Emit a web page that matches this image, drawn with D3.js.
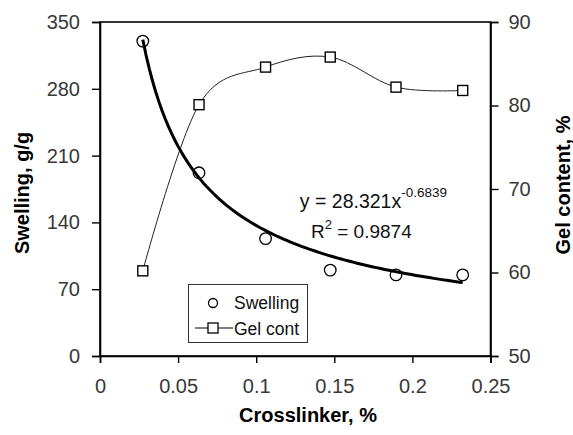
<!DOCTYPE html>
<html><head><meta charset="utf-8">
<script src="https://cdn.jsdelivr.net/npm/d3@7"></script>
<style>
html,body{margin:0;padding:0;background:#fff;}
svg{display:block;font-family:"Liberation Sans",Arial,sans-serif;}
</style></head>
<body>
<svg id="chart" width="573" height="435"></svg>
<script>
// ---- data ----
const crosslinker = [0.0274, 0.0634, 0.1060, 0.1474, 0.1895, 0.2322];
const swelling    = [330, 192, 123, 90, 85, 85];
const gelContent  = [60.2, 80.1, 84.6, 85.8, 82.2, 81.8];
const xTicks      = [0, 0.05, 0.1, 0.15, 0.2, 0.25];
const xTickLabels = ["0", "0.05", "0.1", "0.15", "0.2", "0.25"];
const yLeftTicks  = [0, 70, 140, 210, 280, 350];
const yRightTicks = [50, 60, 70, 80, 90];
const fitA = 28.321, fitB = -0.6839;   // trendline y = a·x^b (shown on chart)
const rSquared = "0.9874";
const legendLabels = ["Swelling", "Gel cont"];

const svg = d3.select("#chart");
const L = 100, R = 490.5, T = 22, B = 356;
const x = d3.scaleLinear().domain([0, 0.25]).range([L, R]);
const yL = d3.scaleLinear().domain([0, 350]).range([B, T]);
const yR = d3.scaleLinear().domain([50, 90]).range([B, T]);

// frame
svg.append("rect").attr("x", L).attr("y", T).attr("width", R - L).attr("height", B - T)
  .attr("fill", "none").attr("stroke", "#000").attr("stroke-width", 1.6);

const tickFont = 20, tickColor = "#383838";
const gx = svg.append("g").attr("transform", `translate(0,${B})`)
  .call(d3.axisBottom(x).tickValues(xTicks).tickFormat((d, i) => xTickLabels[i]).tickSize(7).tickPadding(16));
const gl = svg.append("g").attr("transform", `translate(${L},0)`)
  .call(d3.axisLeft(yL).tickValues(yLeftTicks).tickSize(8).tickPadding(12));
const gr = svg.append("g").attr("transform", `translate(${R},0)`)
  .call(d3.axisRight(yR).tickValues(yRightTicks).tickSize(8).tickPadding(10));
[gx, gl, gr].forEach(g => {
  g.select(".domain").attr("stroke", "#000").attr("stroke-width", 1.6);
  g.selectAll(".tick line").attr("stroke", "#000").attr("stroke-width", 1.4);
  g.selectAll(".tick text").attr("font-size", tickFont).attr("fill", tickColor)
    .attr("font-family", "Liberation Sans, Arial, sans-serif");
});

// axis titles
svg.append("text").attr("x", 308).attr("y", 422).attr("text-anchor", "middle")
  .attr("font-size", 20).attr("font-weight", "bold").text("Crosslinker, %");
svg.append("text").attr("transform", "translate(29,193) rotate(-90)").attr("text-anchor", "middle")
  .attr("font-size", 20).attr("font-weight", "bold").text("Swelling, g/g");
svg.append("text").attr("transform", "translate(570,185) rotate(-90)").attr("text-anchor", "middle")
  .attr("font-size", 20).attr("font-weight", "bold").text("Gel content, %");

// gel content smoothed line
const gelData = crosslinker.map((c, i) => [c, gelContent[i]]);
svg.append("path").datum(gelData)
  .attr("d", d3.line().x(d => x(d[0])).y(d => yR(d[1])).curve(d3.curveCardinal.tension(0)))
  .attr("fill", "none").attr("stroke", "#222").attr("stroke-width", 1);
svg.selectAll(".sq").data(gelData).enter().append("rect")
  .attr("x", d => x(d[0]) - 5).attr("y", d => yR(d[1]) - 5).attr("width", 10).attr("height", 10)
  .attr("fill", "#fff").attr("stroke", "#000").attr("stroke-width", 1.4);

// swelling points
const swData = crosslinker.map((c, i) => [c, swelling[i]]);
svg.selectAll(".ci").data(swData).enter().append("circle")
  .attr("cx", d => x(d[0])).attr("cy", d => yL(d[1])).attr("r", 5.8)
  .attr("fill", "#fff").attr("stroke", "#000").attr("stroke-width", 1.3);

// power trendline
const x0 = crosslinker[0], x1 = crosslinker[crosslinker.length - 1];
const fit = d3.range(0, 101).map(i => { const xv = x0 + (x1 - x0) * i / 100; return [xv, fitA * Math.pow(xv, fitB)]; });
svg.append("path").datum(fit)
  .attr("d", d3.line().x(d => x(d[0])).y(d => yL(d[1])))
  .attr("fill", "none").attr("stroke", "#000").attr("stroke-width", 3);

// equation
const eq = svg.append("text").attr("x", 447).attr("y", 208).attr("text-anchor", "end")
  .attr("font-size", 19.5).attr("fill", "#111");
eq.append("tspan").text(`y = ${fitA}x`);
eq.append("tspan").attr("dy", -11).attr("font-size", 13.5).text(fitB.toString());
const r2 = svg.append("text").attr("x", 311).attr("y", 238).attr("font-size", 19).attr("fill", "#111");
r2.append("tspan").text("R");
r2.append("tspan").attr("dy", -9).attr("font-size", 13).text("2");
r2.append("tspan").attr("dy", 9).text(` = ${rSquared}`);

// legend
const lg = svg.append("g");
lg.append("rect").attr("x", 188.5).attr("y", 284.5).attr("width", 119).attr("height", 58)
  .attr("fill", "#fff").attr("stroke", "#333").attr("stroke-width", 1);
lg.append("circle").attr("cx", 213).attr("cy", 303).attr("r", 4.5)
  .attr("fill", "#fff").attr("stroke", "#000").attr("stroke-width", 1.3);
lg.append("line").attr("x1", 195).attr("x2", 233).attr("y1", 328).attr("y2", 328)
  .attr("stroke", "#000").attr("stroke-width", 1.2);
lg.append("rect").attr("x", 208).attr("y", 323).attr("width", 10).attr("height", 10)
  .attr("fill", "#fff").attr("stroke", "#000").attr("stroke-width", 1.3);
lg.selectAll(".lt").data(legendLabels).enter().append("text")
  .attr("x", 234).attr("y", (d, i) => 309 + i * 25.5).attr("font-size", 17.5).attr("fill", "#111")
  .text(d => d);
</script>
</body></html>
